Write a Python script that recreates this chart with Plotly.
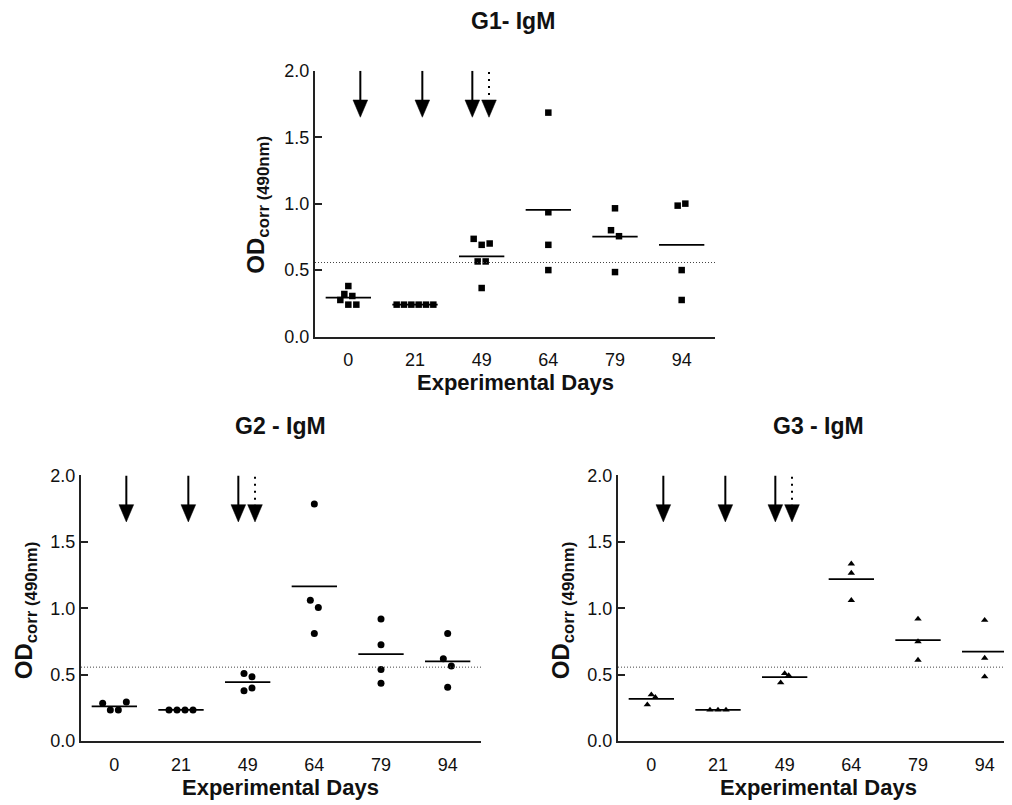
import numpy as np
import plotly.graph_objects as go

# ---------------- data ----------------
days = ["0", "21", "49", "64", "79", "94"]

g1_values = [
    [0.38, 0.32, 0.305, 0.275, 0.24, 0.24],
    [0.24, 0.24, 0.24, 0.24, 0.24, 0.24],
    [0.735, 0.69, 0.70, 0.565, 0.565, 0.365],
    [1.685, 0.935, 0.69, 0.50],
    [0.965, 0.80, 0.755, 0.485],
    [0.985, 1.00, 0.50, 0.275],
]
g1_jitter = [
    [0, -0.06, 0.06, -0.12, 0, 0.12],
    [-0.275, -0.165, -0.055, 0.055, 0.165, 0.275],
    [-0.12, 0, 0.12, -0.06, 0.06, 0],
    [0, 0, 0, 0],
    [0, -0.06, 0.06, 0],
    [-0.06, 0.055, 0, 0],
]

g2_values = [
    [0.285, 0.235, 0.235, 0.295],
    [0.235, 0.235, 0.235, 0.235],
    [0.51, 0.485, 0.38, 0.40],
    [1.785, 1.06, 1.005, 0.81],
    [0.92, 0.725, 0.54, 0.435],
    [0.81, 0.62, 0.565, 0.405],
]
g2_jitter = [
    [-0.175, -0.06, 0.06, 0.18],
    [-0.18, -0.06, 0.06, 0.18],
    [-0.055, 0.065, -0.055, 0.065],
    [0, -0.06, 0.06, 0],
    [0, 0, 0, 0],
    [0, -0.065, 0.055, 0],
]

g3_values = [
    [0.275, 0.35, 0.33],
    [0.235, 0.235, 0.235],
    [0.44, 0.51, 0.495],
    [1.335, 1.265, 1.06],
    [0.92, 0.75, 0.61],
    [0.91, 0.625, 0.485],
]
g3_jitter = [
    [-0.06, 0, 0.06],
    [-0.12, 0, 0.12],
    [-0.06, 0, 0.06],
    [0, 0, 0],
    [0, 0, 0],
    [0, 0, 0],
]

cutoff = 0.557
immunization_pos = [0.18, 1.11, 1.86]   # solid arrows (category units)
booster_pos = [2.11]                    # dotted arrow

titles = ["G1- IgM", "G2 - IgM", "G3 - IgM"]
symbols = ["square", "circle", "triangle-up"]
msizes = [6.5, 7, 6.5]

# ---------------- figure ----------------
W, H = 1012, 805
FONT = "Arial, Liberation Sans, sans-serif"

def px_x(t):
    return (t - 7) / W

def px_y(t):
    p = (t - 18.2) / 0.976
    return 1 - p / H

panels = [
    dict(vals=g1_values, jit=g1_jitter, xd=[314, 714], yd=[71, 337], xr=[-0.5, 5.5],
         title=(512, 21), xt=(514, 383), yt=(257, 205)),
    dict(vals=g2_values, jit=g2_jitter, xd=[80, 480], yd=[476, 742], xr=[-0.5, 5.5],
         title=(279, 427), xt=(279, 788), yt=(24, 611)),
    dict(vals=g3_values, jit=g3_jitter, xd=[617, 1007], yd=[476, 742], xr=[-0.5, 5.35],
         title=(817, 427), xt=(817, 788), yt=(561, 611)),
]

fig = go.Figure()
shapes = []
annotations = []
layout_axes = {}

for k, p in enumerate(panels):
    n = "" if k == 0 else str(k + 1)
    xa, ya = "x" + n, "y" + n

    # points
    xs, ys = [], []
    for i, (vals, jit) in enumerate(zip(p["vals"], p["jit"])):
        for v, j in zip(vals, jit):
            xs.append(i + j)
            ys.append(v)
    fig.add_trace(go.Scatter(
        x=xs, y=ys, mode="markers", xaxis=xa, yaxis=ya, showlegend=False,
        marker=dict(symbol=symbols[k], size=msizes[k], color="black",
                    line=dict(width=0)),
        cliponaxis=False))

    # mean lines
    mx, my = [], []
    for i, vals in enumerate(p["vals"]):
        m = float(np.mean(vals))
        mx += [i - 0.34, i + 0.34, None]
        my += [m, m, None]
    fig.add_trace(go.Scatter(
        x=mx, y=my, mode="lines", xaxis=xa, yaxis=ya, showlegend=False,
        line=dict(color="black", width=1.8), cliponaxis=False))

    # cutoff line
    shapes.append(dict(type="line", xref=xa + " domain", yref=ya, x0=0, x1=1,
                       y0=cutoff, y1=cutoff,
                       line=dict(color="#444", width=1, dash="1px,2px")))

    # arrows
    for pos, dashed in [(q, False) for q in immunization_pos] + [(q, True) for q in booster_pos]:
        shapes.append(dict(type="line", xref=xa, yref=ya, x0=pos, x1=pos,
                           y0=1.99 if dashed else 2.0, y1=1.77,
                           line=dict(color="black", width=2,
                                     dash="2px,5px" if dashed else "solid")))
        shapes.append(dict(type="path", xref=xa, yref=ya,
                           path=f"M {pos-0.11},1.78 L {pos+0.11},1.78 L {pos},1.65 Z",
                           fillcolor="black", line=dict(color="black", width=0.5)))

    layout_axes["xaxis" + n] = dict(
        domain=[px_x(p["xd"][0]), px_x(p["xd"][1])], anchor=ya, range=p["xr"],
        tickmode="array", tickvals=list(range(len(days))), ticktext=days,
        showline=True, linecolor="#222", linewidth=2, showgrid=False, zeroline=False,
        ticks="outside", ticklen=6, tickcolor="rgba(0,0,0,0)",
        tickfont=dict(family=FONT, size=18, color="#111"))
    layout_axes["yaxis" + n] = dict(
        domain=[px_y(p["yd"][1]), px_y(p["yd"][0])], anchor=xa, range=[0, 2.0],
        tickmode="array", tickvals=[0, 0.5, 1.0, 1.5, 2.0], tickformat=".1f",
        showline=True, linecolor="#222", linewidth=2, showgrid=False, zeroline=False,
        ticks="inside", ticklen=7, tickwidth=2, tickcolor="#222",
        tickfont=dict(family=FONT, size=18, color="#111"))

    annotations.append(dict(text=f"<b>{titles[k]}</b>", xref="paper", yref="paper",
                            x=px_x(p["title"][0]), y=px_y(p["title"][1]),
                            xanchor="center", yanchor="middle", showarrow=False,
                            font=dict(family=FONT, size=23, color="#111")))
    annotations.append(dict(text="<b>Experimental Days</b>", xref="paper", yref="paper",
                            x=px_x(p["xt"][0]), y=px_y(p["xt"][1]),
                            xanchor="center", yanchor="middle", showarrow=False,
                            font=dict(family=FONT, size=22, color="#111")))
    annotations.append(dict(text="<b>OD<sub>corr (490nm)</sub></b>", xref="paper", yref="paper",
                            x=px_x(p["yt"][0]), y=px_y(p["yt"][1]), textangle=-90,
                            xanchor="center", yanchor="middle", showarrow=False,
                            font=dict(family=FONT, size=24, color="#111")))

fig.update_layout(
    width=W, height=H, autosize=False, margin=dict(l=0, r=0, t=0, b=0),
    paper_bgcolor="white", plot_bgcolor="white",
    shapes=shapes, annotations=annotations, showlegend=False,
    **layout_axes)

fig.write_html("out.html")
